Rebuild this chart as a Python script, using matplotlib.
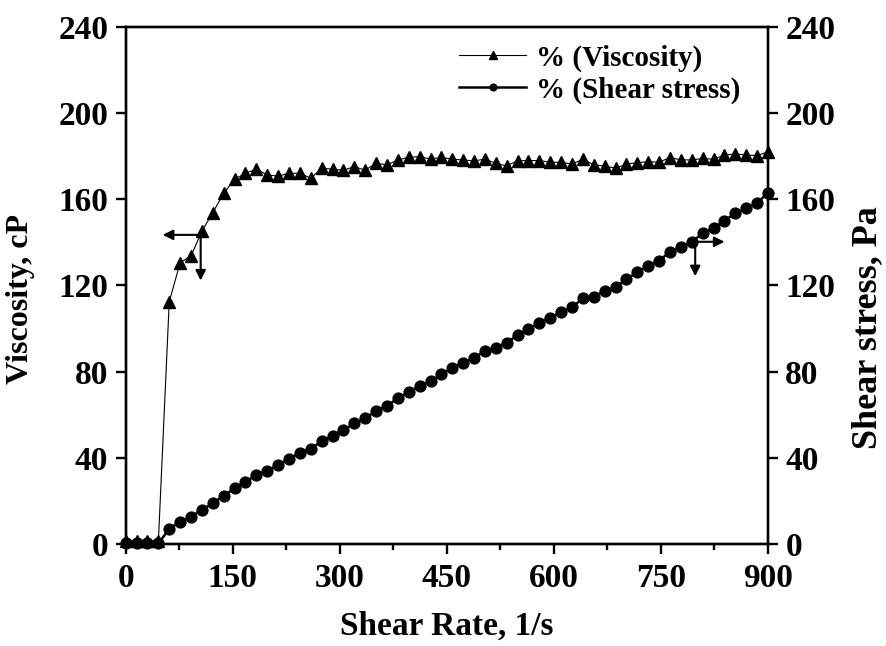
import matplotlib
matplotlib.use("Agg")
import matplotlib.pyplot as plt

plt.rcParams['font.family'] = ['Liberation Serif', 'DejaVu Serif']
plt.rcParams['font.weight'] = 'bold'

shear_rate = [0.0, 15.3, 30.5, 45.8, 61.0, 76.3, 91.5, 106.8, 122.0, 137.3,
              152.5, 167.8, 183.1, 198.3, 213.6, 228.8, 244.1, 259.3, 274.6, 289.8,
              305.1, 320.3, 335.6, 350.8, 366.1, 381.4, 396.6, 411.9, 427.1, 442.4,
              457.6, 472.9, 488.1, 503.4, 518.6, 533.9, 549.2, 564.4, 579.7, 594.9,
              610.2, 625.4, 640.7, 655.9, 671.2, 686.4, 701.7, 716.9, 732.2, 747.5,
              762.7, 778.0, 793.2, 808.5, 823.7, 839.0, 854.2, 869.5, 884.7, 900.0]

viscosity = [1.5, 1.5, 1.5, 1.5, 112.5, 130.6, 133.7, 145.3, 153.8, 162.8,
             169.3, 172.1, 174.0, 171.3, 170.8, 172.1, 172.1, 169.8, 174.4, 174.0,
             173.5, 175.2, 173.5, 176.8, 176.0, 178.3, 179.5, 179.8, 178.7, 179.5,
             178.6, 178.3, 177.8, 178.7, 176.7, 175.5, 178.0, 178.0, 178.0, 177.2,
             177.2, 176.4, 178.6, 176.0, 175.5, 174.4, 176.4, 177.0, 177.5, 177.2,
             179.4, 178.3, 178.3, 179.0, 178.6, 180.6, 181.0, 180.6, 180.3, 182.0]

shear_stress = [0.3, 0.3, 0.3, 0.3, 7.0, 10.4, 12.7, 15.8, 18.9, 22.4,
                25.8, 28.9, 32.0, 34.0, 36.7, 39.5, 42.4, 44.1, 47.8, 50.3,
                52.9, 56.0, 58.3, 61.9, 64.2, 67.6, 70.4, 73.5, 75.7, 78.7,
                81.6, 84.2, 86.5, 89.6, 91.1, 93.5, 97.0, 99.7, 102.7, 105.1,
                107.6, 109.9, 114.1, 114.8, 117.5, 119.2, 123.0, 126.1, 129.2, 131.5,
                135.7, 138.0, 140.3, 144.2, 146.6, 150.1, 153.5, 155.8, 158.2, 163.1]

x_ticks = [0, 150, 300, 450, 600, 750, 900]
x_minor = [75, 225, 375, 525, 675, 825]
y_ticks = [0, 40, 80, 120, 160, 200, 240]

fig = plt.figure(figsize=(8.86, 6.46), dpi=100)
ax = fig.add_axes([0.1419, 0.1579, 0.7249, 0.8003])
ax2 = ax.twinx()

l1, = ax.plot(shear_rate, viscosity, color='black', lw=0.8, marker='^',
              markersize=8.5, clip_on=False, zorder=3, label='% (Viscosity)')
l2, = ax2.plot(shear_rate, shear_stress, color='black', lw=1.8, marker='o',
               markersize=7.8, clip_on=False, zorder=3, label='% (Shear stress)')

ax.set_xlim(0, 900)
ax.set_ylim(0, 240)
ax2.set_ylim(0, 240)
ax.set_xticks(x_ticks)
ax.set_xticks(x_minor, minor=True)
ax.set_yticks(y_ticks)
ax2.set_yticks(y_ticks)

fs_tick = 24
for a in (ax, ax2):
    for s in a.spines.values():
        s.set_linewidth(1.7)
    a.tick_params(axis='both', which='major', direction='out', length=7.5,
                  width=1.7, labelsize=fs_tick, pad=5)
    a.tick_params(axis='x', which='minor', direction='out', length=4.5, width=1.7)
ax.tick_params(axis='x', top=False, pad=6)
ax.tick_params(axis='y', right=False)
for lab in ax.get_xticklabels() + ax.get_yticklabels() + ax2.get_yticklabels():
    lab.set_fontweight('bold')

ax.set_xlabel('Shear Rate, 1/s', fontsize=24, fontweight='bold', labelpad=12)
ax.set_ylabel('Viscosity, cP', fontsize=23, fontweight='bold')
ax2.set_ylabel('Shear stress, Pa', fontsize=26, fontweight='bold')
ax.yaxis.set_label_coords(-0.142, 0.474)
ax2.yaxis.set_label_coords(1.13, 0.418)

# arrows indicating the axis of each series
arrow_kw = dict(arrowstyle='-|>', color='black', lw=1.5, mutation_scale=15)
ax.annotate('', xy=(48, 143.5), xytext=(105, 143.5), arrowprops=arrow_kw)
ax.annotate('', xy=(105, 121), xytext=(105, 144.5), arrowprops=arrow_kw)
ax2.annotate('', xy=(843, 140.3), xytext=(797, 140.3), arrowprops=arrow_kw)
ax2.annotate('', xy=(798, 123), xytext=(798, 141.3), arrowprops=arrow_kw)

leg = ax.legend(handles=[l1, l2], loc='upper right', bbox_to_anchor=(0.985, 1.0),
                frameon=False, fontsize=21, markerscale=0.62, handlelength=2.3,
                handletextpad=0.35, borderaxespad=0.2, labelspacing=0.15)
for t in leg.get_texts():
    t.set_fontweight('bold')

fig.savefig('out.png', dpi=100)
